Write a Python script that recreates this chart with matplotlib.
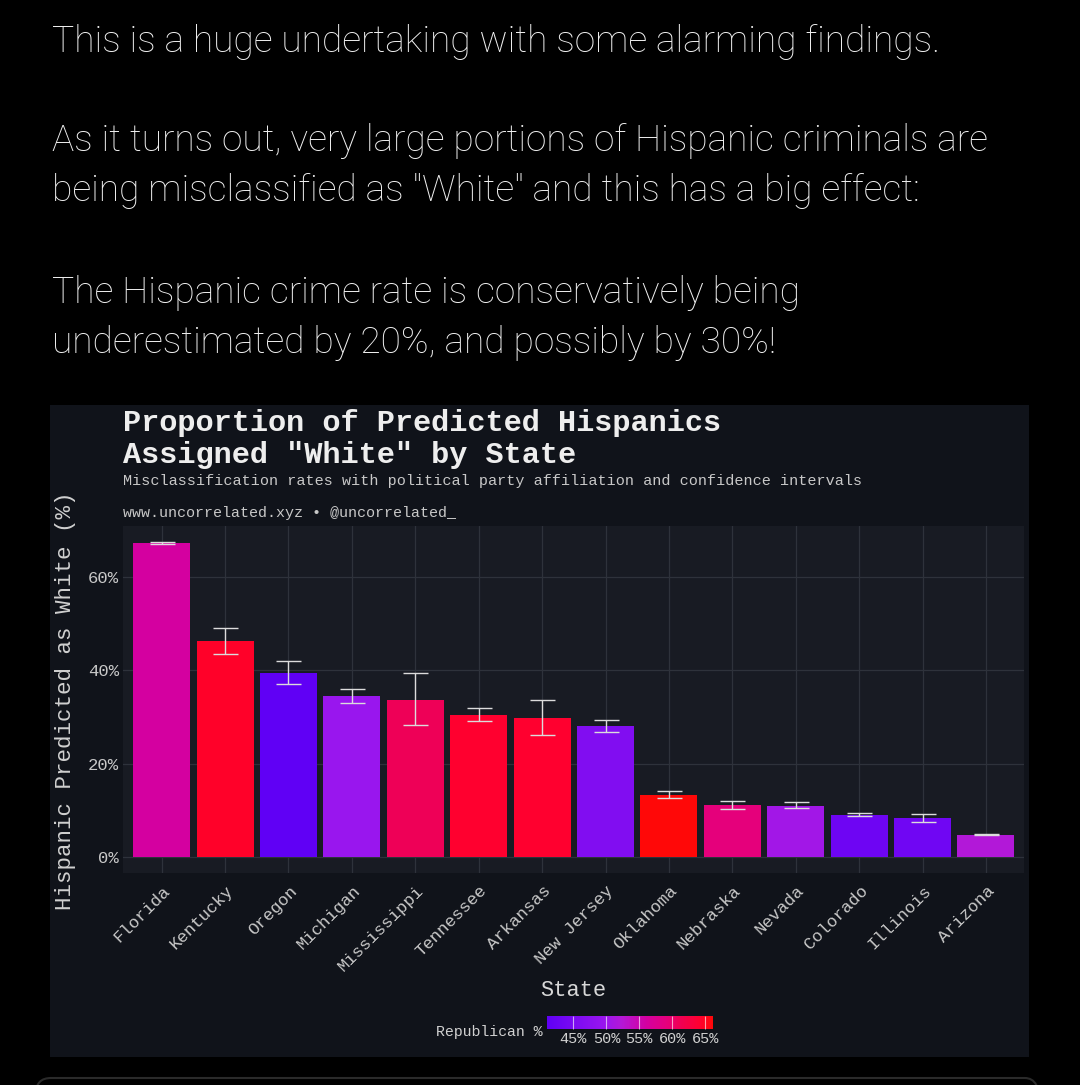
import matplotlib
matplotlib.use("Agg")
import matplotlib.pyplot as plt
import numpy as np
from matplotlib.colors import LinearSegmentedColormap, Normalize
from matplotlib.patches import Rectangle, FancyBboxPatch
from matplotlib.transforms import ScaledTranslation
import matplotlib.cm as cm

# ---------------- data ----------------
states = ["Florida", "Kentucky", "Oregon", "Michigan", "Mississippi", "Tennessee",
          "Arkansas", "New Jersey", "Oklahoma", "Nebraska", "Nevada", "Colorado",
          "Illinois", "Arizona"]
pct_white = [67.3, 46.3, 39.4, 34.5, 33.6, 30.5, 29.8, 28.1, 13.3, 11.1, 11.0, 9.0, 8.4, 4.8]
ci_low = [67.0, 43.5, 37.0, 33.1, 28.3, 29.1, 26.2, 26.8, 12.6, 10.4, 10.5, 8.7, 7.6, 4.7]
ci_high = [67.5, 49.0, 42.0, 35.9, 39.5, 31.9, 33.6, 29.4, 14.2, 12.1, 11.7, 9.4, 9.2, 4.9]
republican_pct = [56.1, 64.5, 41.0, 49.7, 60.9, 64.2, 64.2, 46.1, 66.2, 59.3, 50.6, 43.1, 43.5, 52.2]
y_ticks = [0, 20, 40, 60]
cbar_ticks = [45, 50, 55, 60, 65]

header_lines = [
    ("This is a huge undertaking with some alarming findings.", 52),
    ("As it turns out, very large portions of Hispanic criminals are", 151),
    ("being misclassified as \"White\" and this has a big effect:", 201),
    ("The Hispanic crime rate is conservatively being", 303),
    ("underestimated by 20%, and possibly by 30%!", 353),
]

W, H = 1080, 1085
fig = plt.figure(figsize=(W / 100, H / 100), dpi=100, facecolor="black")

def fx(x):
    return x / W

def fy(y):
    return 1 - y / H

# header text
for txt, base in header_lines:
    fig.text(fx(52), fy(base), txt, family="Roboto", weight="light", fontsize=26.7,
             color="#f0f0f0", va="baseline", ha="left")

# next-card outline at bottom
card = FancyBboxPatch((fx(36), fy(1120)), fx(1040 - 36), (1120 - 1078) / H,
                      boxstyle="round,pad=0,rounding_size=0.014",
                      transform=fig.transFigure, facecolor="none",
                      edgecolor="#2a2a2a", lw=1.5, zorder=-10)
fig.patches.append(card)

# chart panel
panel = Rectangle((fx(50), fy(1057)), fx(1029 - 50), (1057 - 405) / H,
                  transform=fig.transFigure, facecolor="#10131a", edgecolor="none", zorder=-10)
fig.patches.append(panel)

mono = "Liberation Mono"

fig.text(fx(123), fy(431), "Proportion of Predicted Hispanics", family=mono,
         weight="bold", fontsize=21.8, color="#eeeeee", va="baseline")
fig.text(fx(123), fy(463), "Assigned \"White\" by State", family=mono,
         weight="bold", fontsize=21.8, color="#eeeeee", va="baseline")
fig.text(fx(123), fy(485), "Misclassification rates with political party affiliation and confidence intervals",
         family=mono, fontsize=10.9, color="#c8c8c8", va="baseline")
fig.text(fx(123), fy(517), "www.uncorrelated.xyz \u2022 @uncorrelated_",
         family=mono, fontsize=10.85, color="#c8c8c8", va="baseline")

# axes
ax = fig.add_axes([fx(123), fy(873), fx(1024 - 123), (873 - 526) / H])
ax.set_zorder(5)
ax.set_facecolor("#181b23")
for s in ax.spines.values():
    s.set_visible(False)

colors_nodes = [(0.0, "#6000f5"), (0.35, "#9a16ee"), (0.45, "#b418d6"),
                (0.6, "#d400a0"), (0.73, "#e6007a"), (0.79, "#ee0058"),
                (0.92, "#ff0030"), (1.0, "#ff0808")]
cmap = LinearSegmentedColormap.from_list("rep", colors_nodes)
norm = Normalize(vmin=min(republican_pct), vmax=max(republican_pct))

x = np.arange(len(states))
vals = np.array(pct_white)
lo = vals - np.array(ci_low)
hi = np.array(ci_high) - vals
ax.bar(x, vals, width=0.9, color=[cmap(norm(r)) for r in republican_pct], zorder=2)
ax.errorbar(x, vals, yerr=[lo, hi], fmt="none", ecolor="#dcdcdc", elinewidth=1.0,
            capsize=9, capthick=1.0, zorder=3)

ax.set_xlim(-0.61, len(states) - 1 + 0.6)
ax.set_ylim(-3.4, 70.9)
ax.set_yticks(y_ticks)
ax.set_yticklabels([f"{t}%" for t in y_ticks])
ax.set_xticks(x)
ax.set_xticklabels(states, rotation=45, ha="right", va="center", rotation_mode="anchor")
ax.grid(True, color="#2e323b", lw=0.9, zorder=0)
ax.set_axisbelow(True)
ax.tick_params(axis="both", length=0, colors="#c8c8c8", labelsize=12.4)
ax.tick_params(axis="x", pad=11)
ax.tick_params(axis="y", pad=3)
shift = ScaledTranslation(6 / 100, 0, fig.dpi_scale_trans)
for lab in ax.get_xticklabels():
    lab.set_family(mono)
    lab.set_transform(lab.get_transform() + shift)
for lab in ax.get_yticklabels():
    lab.set_family(mono)

fig.text(fx(66), fy(701), "Hispanic Predicted as White (%)", family=mono, fontsize=16.2,
         color="#d0d0d0", rotation=90, ha="center", va="center")
fig.text(fx(573), fy(990), "State", family=mono, fontsize=15.8, color="#d8d8d8",
         ha="center", va="center")

# colorbar
cax = fig.add_axes([fx(547), fy(1029), fx(713 - 547), (1029 - 1016) / H])
cax.set_zorder(5)
sm = cm.ScalarMappable(norm=norm, cmap=cmap)
cb = fig.colorbar(sm, cax=cax, orientation="horizontal")
cb.outline.set_visible(False)
cb.set_ticks(cbar_ticks)
cb.set_ticklabels([f"{t}%" for t in cbar_ticks])
cax.tick_params(direction="in", length=9.4, width=0.8, color="#ffffffa0", labelcolor="#d0d0d0",
                labelsize=11, pad=2)
for lab in cax.get_xticklabels():
    lab.set_family(mono)
fig.text(fx(542), fy(1032), "Republican %", family=mono, fontsize=10.7, color="#d0d0d0",
         ha="right", va="center")

fig.savefig("out.png", dpi=100, facecolor="black")
